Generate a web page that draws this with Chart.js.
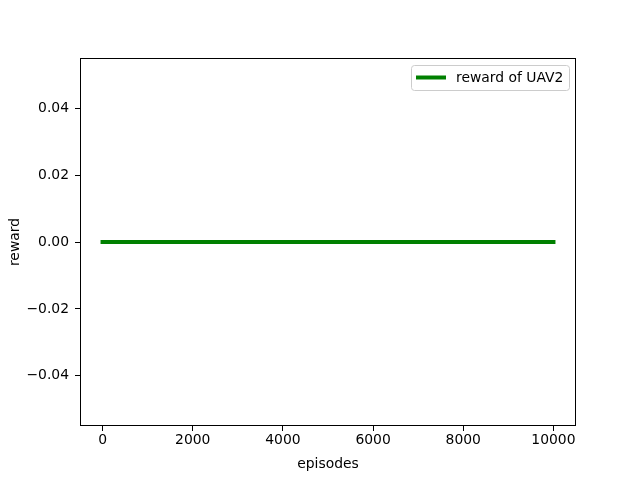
<!DOCTYPE html>
<html>
<head>
<meta charset="utf-8">
<script src="https://cdn.jsdelivr.net/npm/chart.js@4"></script>
<style>
  html, body { margin: 0; padding: 0; background: #fff; }
  #wrap { width: 640px; height: 480px; }
</style>
</head>
<body>
<div id="wrap"><canvas id="c" width="640" height="480"></canvas></div>
<script>
// ---- data ----
const episodes = [0, 10000];
const rewardUAV2 = [0, 0];
const xTicks = [0, 2000, 4000, 6000, 8000, 10000];
const yTicks = [-0.04, -0.02, 0.00, 0.02, 0.04];
const seriesLabel = 'reward of UAV2';
const xLabel = 'episodes';
const yLabel = 'reward';

const FONT = 'DejaVu Sans';
const FS = 13.9;

function fmtY(v) {
  const s = Math.abs(v).toFixed(2);
  return (v < -1e-9 ? '\u2212' : '') + s;
}

const framePlugin = {
  id: 'frame',
  afterDraw(chart) {
    const { ctx, chartArea: a } = chart;
    ctx.save();
    ctx.strokeStyle = '#000';
    ctx.lineWidth = 1;
    ctx.strokeRect(Math.round(a.left) + 0.5, Math.round(a.top) + 0.5,
                   Math.round(a.right - a.left) - 1, Math.round(a.bottom - a.top) - 1);
    // legend
    const bx = 411.5, by = 65.5, bw = 158, bh = 25, r = 3;
    ctx.beginPath();
    ctx.moveTo(bx + r, by);
    ctx.lineTo(bx + bw - r, by); ctx.quadraticCurveTo(bx + bw, by, bx + bw, by + r);
    ctx.lineTo(bx + bw, by + bh - r); ctx.quadraticCurveTo(bx + bw, by + bh, bx + bw - r, by + bh);
    ctx.lineTo(bx + r, by + bh); ctx.quadraticCurveTo(bx, by + bh, bx, by + bh - r);
    ctx.lineTo(bx, by + r); ctx.quadraticCurveTo(bx, by, bx + r, by);
    ctx.closePath();
    ctx.fillStyle = 'rgba(255,255,255,0.8)';
    ctx.fill();
    ctx.strokeStyle = '#cccccc';
    ctx.stroke();
    const ds = chart.data.datasets[0];
    ctx.strokeStyle = ds.borderColor;
    ctx.lineWidth = ds.borderWidth;
    ctx.lineCap = 'square';
    ctx.beginPath();
    ctx.moveTo(418, 77.5); ctx.lineTo(444, 77.5);
    ctx.stroke();
    ctx.fillStyle = '#000';
    ctx.font = FS + 'px "' + FONT + '"';
    ctx.textBaseline = 'middle';
    ctx.textAlign = 'left';
    ctx.fillText(ds.label, 456, 78);
    ctx.restore();
  }
};

new Chart(document.getElementById('c'), {
  type: 'line',
  data: {
    datasets: [{
      label: seriesLabel,
      data: episodes.map((e, i) => ({ x: e, y: rewardUAV2[i] })),
      borderColor: '#008000',
      borderWidth: 4,
      borderCapStyle: 'square',
      pointRadius: 0,
      fill: false,
      tension: 0
    }]
  },
  options: {
    responsive: false,
    animation: false,
    devicePixelRatio: 1,
    layout: { padding: { left: 0, right: 64, top: 58, bottom: 0 } },
    plugins: { legend: { display: false }, tooltip: { enabled: false } },
    scales: {
      x: {
        type: 'linear',
        min: -500, max: 10500,
        afterFit(s) { s.height = 54; },
        afterBuildTicks(s) { s.ticks = xTicks.map(v => ({ value: v })); },
        grid: { drawOnChartArea: false, drawTicks: true, tickLength: 5, color: '#000', tickColor: '#000', tickWidth: 1 },
        border: { display: false },
        ticks: { color: '#000', font: { family: FONT, size: FS }, padding: 1, maxRotation: 0, autoSkip: false,
                 callback: v => String(v) },
        title: { display: true, text: xLabel, color: '#000', font: { family: FONT, size: FS }, padding: { top: 2, bottom: 7 } }
      },
      y: {
        type: 'linear',
        min: -0.055, max: 0.055,
        afterFit(s) { s.width = 80; },
        afterBuildTicks(s) { s.ticks = yTicks.map(v => ({ value: v })); },
        grid: { drawOnChartArea: false, drawTicks: true, tickLength: 5, color: '#000', tickColor: '#000', tickWidth: 1 },
        border: { display: false },
        ticks: { color: '#000', font: { family: FONT, size: FS }, padding: 6, autoSkip: false, callback: v => fmtY(v) },
        title: { display: true, text: yLabel, color: '#000', font: { family: FONT, size: FS }, padding: { top: 7, bottom: 0 } }
      }
    }
  },
  plugins: [framePlugin]
});
</script>
</body>
</html>
